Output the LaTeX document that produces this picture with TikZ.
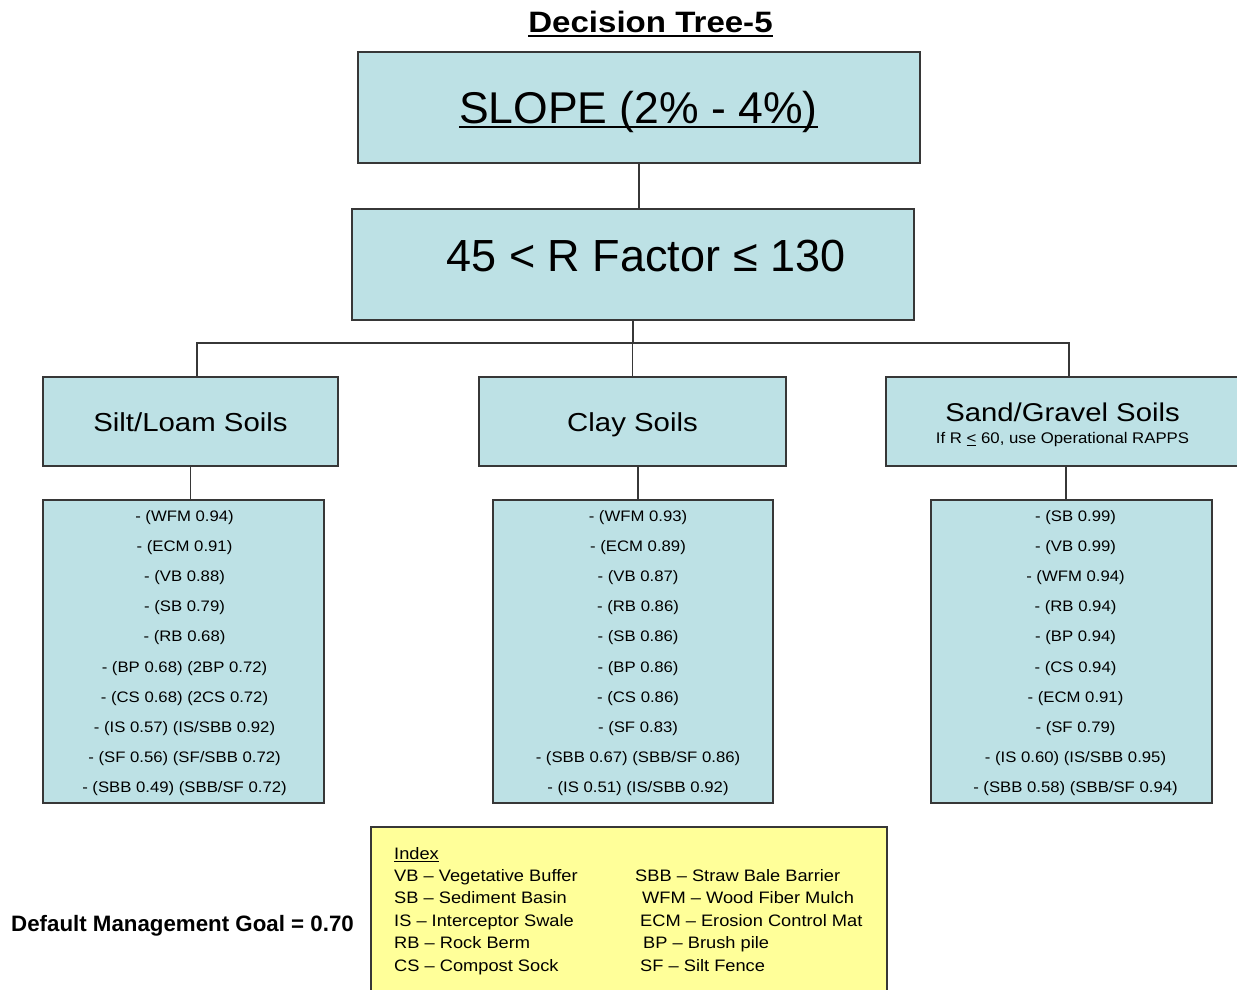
\documentclass[tikz,border=0pt]{standalone}
\usepackage{fontspec}
\usepackage{graphicx}
\setmainfont{Liberation Sans}
\definecolor{boxblue}{RGB}{189,225,229}
\definecolor{idxyellow}{RGB}{255,255,153}
\definecolor{edgegray}{RGB}{55,55,55}
\newsavebox\ulbox
\newcommand\hs[2]{\scalebox{#1}[1]{#2}}
\newcommand\uln[3]{\sbox\ulbox{#3}\rlap{\rule[-#1]{\wd\ulbox}{#2}}\usebox\ulbox}
\begin{document}
\begin{tikzpicture}[x=1pt,y=-1pt,
 box/.style={draw=edgegray,line width=1.5pt,fill=boxblue,inner sep=0pt},
 idx/.style={draw=edgegray,line width=1.5pt,fill=idxyellow,inner sep=0pt},
 conn/.style={draw=edgegray,line width=1.5pt},
 txt/.style={inner sep=0pt,anchor=base,font=\fontsize{#1}{#1}\selectfont},
 ltxt/.style={inner sep=0pt,anchor=base west,font=\fontsize{#1}{#1}\selectfont}]
\useasboundingbox (0,0) rectangle (1237,990);
\fill[white] (0,0) rectangle (1237,990);

% title
\node[txt=29.5] (title) at (650.5,33) {\bfseries\hs{1.12}{\uln{4.5pt}{2.2pt}{Decision Tree-5}}};

% top boxes
\node[box,minimum width=562,minimum height=111] (slope) at (639,107.5) {};
\node[txt=44.5] (slopet) at (638.5,123.3) {\uln{4.8pt}{1.8pt}{SLOPE (2\% - 4\%)}};
\node[box,minimum width=562,minimum height=111] (rfac) at (633,264.5) {};
\node[txt=45] (rfact) at (646,271.5) {45 < R Factor ≤ 130};

% soil boxes
\node[box,minimum width=295,minimum height=89] (silt) at (190.5,421.5) {};
\node[txt=26] (siltt) at (190.5,431.7) {\hs{1.13}{Silt/Loam Soils}};
\node[box,minimum width=307,minimum height=89] (clay) at (632.5,421.5) {};
\node[txt=26] (clayt) at (632.5,431.7) {\hs{1.13}{Clay Soils}};
\node[box,minimum width=353,minimum height=89] (sand) at (1062.5,421.5) {};
\node[txt=25.7] (sandt) at (1062.5,421.5) {\hs{1.14}{Sand/Gravel Soils}};
\node[txt=15.4] (sands) at (1062.5,443.5) {\hs{1.09}{If R \underline{<} 60, use Operational RAPPS}};

% list boxes
\node[box,minimum width=281,minimum height=303] (siltl) at (183.5,651.5) {};
\node[box,minimum width=280,minimum height=303] (clayl) at (633,651.5) {};
\node[box,minimum width=281,minimum height=303] (sandl) at (1071.5,651.5) {};

\foreach \t [count=\i from 0] in {{- (WFM 0.94)},{- (ECM 0.91)},{- (VB 0.88)},{- (SB 0.79)},{- (RB 0.68)},{- (BP 0.68) (2BP 0.72)},{- (CS 0.68) (2CS 0.72)},{- (IS 0.57) (IS/SBB 0.92)},{- (SF 0.56) (SF/SBB 0.72)},{- (SBB 0.49) (SBB/SF 0.72)}}
  \node[txt=15.2] (siltr\i) at (184.5,521+30.2*\i) {\hs{1.1}{\t}};
\foreach \t [count=\i from 0] in {{- (WFM 0.93)},{- (ECM 0.89)},{- (VB 0.87)},{- (RB 0.86)},{- (SB 0.86)},{- (BP 0.86)},{- (CS 0.86)},{- (SF 0.83)},{- (SBB 0.67) (SBB/SF 0.86)},{- (IS 0.51) (IS/SBB 0.92)}}
  \node[txt=15.2] (clayr\i) at (638,521+30.2*\i) {\hs{1.1}{\t}};
\foreach \t [count=\i from 0] in {{- (SB 0.99)},{- (VB 0.99)},{- (WFM 0.94)},{- (RB 0.94)},{- (BP 0.94)},{- (CS 0.94)},{- (ECM 0.91)},{- (SF 0.79)},{- (IS 0.60) (IS/SBB 0.95)},{- (SBB 0.58) (SBB/SF 0.94)}}
  \node[txt=15.2] (sandr\i) at (1075.5,521+30.2*\i) {\hs{1.1}{\t}};

% connectors
\coordinate (busL) at (197,343);
\coordinate (busR) at (1069,343);
\draw[conn] (slope.south) -- (slope.south |- rfac.north);
\draw[conn] (rfac.south) -- (rfac.south |- busL);
\draw[conn] (busL |- silt.north) -- (busL) -- (busR) -- (busR |- sand.north);
\draw[conn] (clay.north) -- (clay.north |- busL);
\draw[conn] (silt.south) -- (silt.south |- siltl.north);
\draw[conn] ([xshift=5.5pt]clay.south) -- ([xshift=5.5pt]clay.south |- clayl.north);
\draw[conn] ([xshift=3.5pt]sand.south) -- ([xshift=3.5pt]sand.south |- sandl.north);

% index
\node[idx,minimum width=516,minimum height=174,anchor=north west] (index) at (370,826) {};
\node[ltxt=16.6] (ixh) at (394,859) {\hs{1.1}{\uln{2.5pt}{1pt}{Index}}};
\foreach \t [count=\i] in {VB – Vegetative Buffer,SB – Sediment Basin,IS – Interceptor Swale,RB – Rock Berm,CS – Compost Sock}
  \node[ltxt=16.6] (ixl\i) at (394,859+22.4*\i) {\hs{1.1}{\t}};
\foreach \x/\t [count=\i] in {635/SBB – Straw Bale Barrier,642/WFM – Wood Fiber Mulch,640/ECM – Erosion Control Mat,643/BP – Brush pile,640/SF – Silt Fence}
  \node[ltxt=16.6] (ixr\i) at (\x,859+22.4*\i) {\hs{1.1}{\t}};

% goal
\node[ltxt=22.3] (goal) at (11,931) {\bfseries Default Management Goal = 0.70};
\end{tikzpicture}
\end{document}
